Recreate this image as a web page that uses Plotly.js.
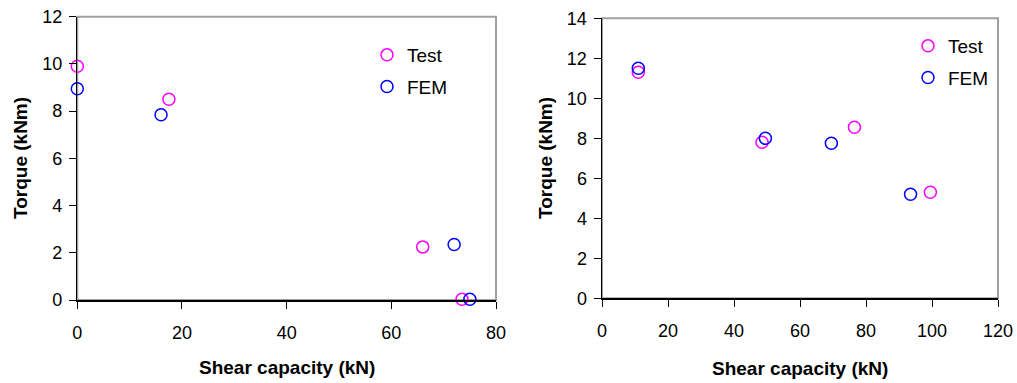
<!DOCTYPE html>
<html>
<head>
<meta charset="utf-8">
<script src="https://cdn.plot.ly/plotly-3.0.1.min.js"></script>
<style>
  html, body { margin: 0; padding: 0; background: #fff; }
  #chart { width: 1017px; height: 383px; }
</style>
</head>
<body>
<div id="chart"></div>
<script>
// Left panel: torque vs shear capacity
const testShearA = [0, 17.5, 66, 73.5];
const testTorqueA = [9.9, 8.5, 2.25, 0.03];
const femShearA = [0, 16, 72, 75];
const femTorqueA = [8.95, 7.85, 2.35, 0.03];

// Right panel
const testShearB = [11, 48.5, 76.5, 99.5];
const testTorqueB = [11.3, 7.8, 8.55, 5.3];
const femShearB = [11, 49.5, 69.5, 93.5];
const femTorqueB = [11.5, 8.0, 7.75, 5.2];

const seriesNames = ['Test', 'FEM'];
const xTitle = 'Shear capacity (kN)';
const yTitle = 'Torque (kNm)';

const FONT = 'Liberation Sans, Arial, sans-serif';
const W = 1017, H = 383;

function marker(color) {
  return { symbol: 'circle-open', size: 12, color: color, line: { width: 1.5, color: color } };
}

function trace(x, y, name, color, xa, ya, legend) {
  return {
    type: 'scatter', mode: 'markers', x: x, y: y, name: name,
    xaxis: xa, yaxis: ya, legend: legend, legendgroup: legend + name,
    cliponaxis: false, marker: marker(color), hoverinfo: 'x+y'
  };
}

const data = [
  trace(testShearA, testTorqueA, seriesNames[0], '#ff00ff', 'x', 'y', 'legend'),
  trace(femShearA, femTorqueA, seriesNames[1], '#0000ff', 'x', 'y', 'legend'),
  trace(testShearB, testTorqueB, seriesNames[0], '#ff00ff', 'x2', 'y2', 'legend2'),
  trace(femShearB, femTorqueB, seriesNames[1], '#0000ff', 'x2', 'y2', 'legend2')
];

// plot areas in pixels: [left, right, top, bottom]
const boxA = [77.3, 496, 16.7, 300];
const boxB = [602, 998, 18.3, 298.3];
const px = v => v / W;
const py = v => 1 - v / H;

function xAxis(box, range, dtick, anchor) {
  return {
    domain: [px(box[0]), px(box[1])], range: range, dtick: dtick, tick0: 0,
    anchor: anchor, showgrid: false, zeroline: false,
    showline: true, linecolor: '#000', linewidth: 1.5,
    ticks: 'outside', ticklen: 7, tickwidth: 1, tickcolor: '#000',
    tickfont: { family: FONT, size: 18, color: '#000' },
    ticklabelstandoff: 9, fixedrange: true
  };
}
function yAxis(box, range, dtick, anchor) {
  return {
    domain: [py(box[3]), py(box[2])], range: range, dtick: dtick, tick0: 0,
    anchor: anchor, showgrid: false, zeroline: false,
    showline: true, linecolor: '#000', linewidth: 1.5,
    ticks: 'outside', ticklen: 7, tickwidth: 1, tickcolor: '#000',
    tickfont: { family: FONT, size: 18, color: '#000' },
    ticklabelstandoff: 3, fixedrange: true
  };
}

function frame(xr, yr) {
  return {
    type: 'rect', xref: xr + ' domain', yref: yr + ' domain',
    x0: 0, x1: 1, y0: 0, y1: 1, layer: 'below',
    line: { color: '#a0a0a0', width: 2 }
  };
}

function axisTitle(text, x, y, angle) {
  return {
    text: text, xref: 'paper', yref: 'paper', x: px(x), y: py(y),
    xanchor: 'center', yanchor: 'middle', showarrow: false, textangle: angle,
    font: { family: FONT, size: 19, color: '#000', weight: 'bold' }
  };
}

function legendBox(x, y) {
  return {
    x: px(x), y: py(y), xanchor: 'left', yanchor: 'top',
    bgcolor: 'rgba(0,0,0,0)', borderwidth: 0, tracegroupgap: 4,
    font: { family: FONT, size: 19, color: '#000' }
  };
}

const layout = {
  width: W, height: H,
  margin: { l: 0, r: 0, t: 0, b: 0 },
  paper_bgcolor: '#fff', plot_bgcolor: '#fff',
  showlegend: true,
  xaxis: xAxis(boxA, [0, 80], 20, 'y'),
  yaxis: yAxis(boxA, [0, 12], 2, 'x'),
  xaxis2: xAxis(boxB, [0, 120], 20, 'y2'),
  yaxis2: yAxis(boxB, [0, 14], 2, 'x2'),
  legend: legendBox(367, 36),
  legend2: legendBox(908, 27),
  shapes: [frame('x', 'y'), frame('x2', 'y2')],
  annotations: [
    axisTitle(xTitle, 286.6, 367, 0),
    axisTitle(yTitle, 20, 158, -90),
    axisTitle(xTitle, 800, 368, 0),
    axisTitle(yTitle, 545, 158, -90)
  ]
};

Plotly.newPlot('chart', data, layout, { displayModeBar: false, staticPlot: true });
</script>
</body>
</html>
